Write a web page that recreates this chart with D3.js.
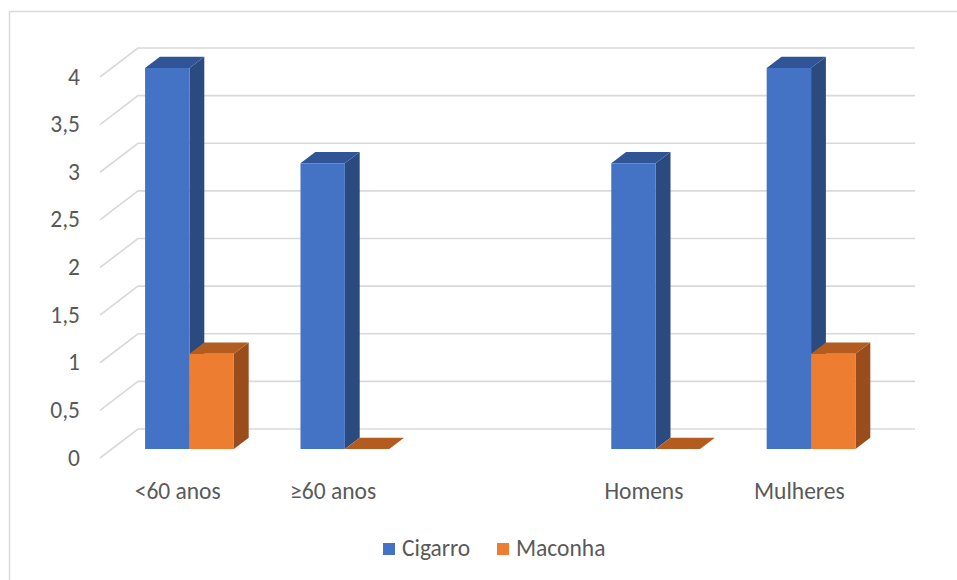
<!DOCTYPE html>
<html>
<head>
<meta charset="utf-8">
<script src="https://cdn.jsdelivr.net/npm/d3@7"></script>
<style>
  html, body { margin: 0; padding: 0; background: #ffffff; }
  svg text { font-family: Carlito, Calibri, Lato, "Open Sans", sans-serif; fill: #595959; }
</style>
</head>
<body>
<svg id="chart" width="957" height="580"></svg>
<script>
// Categories (the blank one is an empty slot in the category axis)
const categories = ["<60 anos", "≥60 anos", "", "Homens", "Mulheres"];
const seriesNames = ["Cigarro", "Maconha"];
const cigarro = [4, 3, null, 3, 4];
const maconha = [1, 0, null, 0, 1];
const yTicks = [0, 0.5, 1, 1.5, 2, 2.5, 3, 3.5, 4];
const yTickLabels = ["0", "0,5", "1", "1,5", "2", "2,5", "3", "3,5", "4"];

const colors = {
  Cigarro: { front: "#4472C4", top: "#2F5597", side: "#2A4A80" },
  Maconha: { front: "#ED7D31", top: "#B45C20", side: "#9A4D1C" }
};

const fontSize = 23.5;
const svg = d3.select("#chart");

// Chart frame
svg.append("rect")
  .attr("x", 9.5).attr("y", 11.5)
  .attr("width", 960).attr("height", 600)
  .attr("fill", "none").attr("stroke", "#d9d9d9").attr("stroke-width", 1.5);

// Oblique projection: depth t in [0,1] from the front plane to the back wall
const depthDX = 38, depthDY = -29;
const proj = (x, y, t) => [x + depthDX * t, y + depthDY * t];

// Scales on the front plane
const y = d3.scaleLinear().domain([0, 4]).range([458, 77]);
const x = d3.scaleBand().domain(categories).range([100, 877]).paddingInner(0).paddingOuter(0);
const xs = d3.scaleBand().domain(seriesNames).range([0, x.bandwidth()]).paddingInner(0).paddingOuter(0.75);

// Gridlines: slant on the left side wall, then horizontal across the back wall
const grid = svg.append("g");
yTicks.forEach(v => {
  const [fx, fy] = proj(x.range()[0], y(v), 0);
  const [bx, by] = proj(x.range()[0], y(v), 1);
  const [ex] = proj(x.range()[1], y(v), 1);
  grid.append("path")
    .attr("d", `M${fx},${fy}L${bx},${by}L${ex},${by}`)
    .attr("fill", "none").attr("stroke", "#d9d9d9").attr("stroke-width", 1.6);
});

// Y axis labels
svg.append("g").selectAll("text")
  .data(yTicks)
  .join("text")
  .attr("x", 80)
  .attr("y", v => y(v) + 2)
  .attr("text-anchor", "end")
  .attr("dominant-baseline", "middle")
  .attr("font-size", fontSize)
  .text((v, i) => yTickLabels[i]);

// Bars
const t0 = 0.31, t1 = 0.70;
const bars = [];
categories.forEach((c, i) => {
  [["Cigarro", cigarro[i]], ["Maconha", maconha[i]]].forEach(([s, v]) => {
    if (v === null) return;
    bars.push({ cat: c, series: s, value: v });
  });
});

const pts = arr => arr.map(p => p.join(",")).join(" ");
const barG = svg.append("g");
bars.forEach(d => {
  const xl = x(d.cat) + xs(d.series);
  const xr = xl + xs.bandwidth();
  const yb = y(0), yt = y(d.value);
  const col = colors[d.series];
  const g = barG.append("g");
  // right side face
  g.append("polygon")
    .attr("points", pts([proj(xr, yt, t0), proj(xr, yt, t1), proj(xr, yb, t1), proj(xr, yb, t0)]))
    .attr("fill", col.side);
  // top face
  g.append("polygon")
    .attr("points", pts([proj(xl, yt, t0), proj(xl, yt, t1), proj(xr, yt, t1), proj(xr, yt, t0)]))
    .attr("fill", col.top);
  // front face
  if (d.value > 0) {
    const [fx, fy] = proj(xl, yt, t0);
    g.append("rect")
      .attr("x", fx).attr("y", fy)
      .attr("width", xr - xl).attr("height", yb - yt)
      .attr("fill", col.front);
  }
});

// Category labels
svg.append("g").selectAll("text")
  .data(categories)
  .join("text")
  .attr("x", c => x(c) + x.bandwidth() / 2)
  .attr("y", 493)
  .attr("text-anchor", "middle")
  .attr("dominant-baseline", "middle")
  .attr("font-size", fontSize)
  .text(c => c);

// Legend
const legendX = [383, 497];
const legend = svg.append("g");
seriesNames.forEach((s, i) => {
  legend.append("rect")
    .attr("x", legendX[i]).attr("y", 543)
    .attr("width", 12).attr("height", 12)
    .attr("fill", colors[s].front);
  legend.append("text")
    .attr("x", legendX[i] + 19).attr("y", 550.5)
    .attr("dominant-baseline", "middle")
    .attr("font-size", fontSize)
    .text(s);
});
</script>
</body>
</html>
